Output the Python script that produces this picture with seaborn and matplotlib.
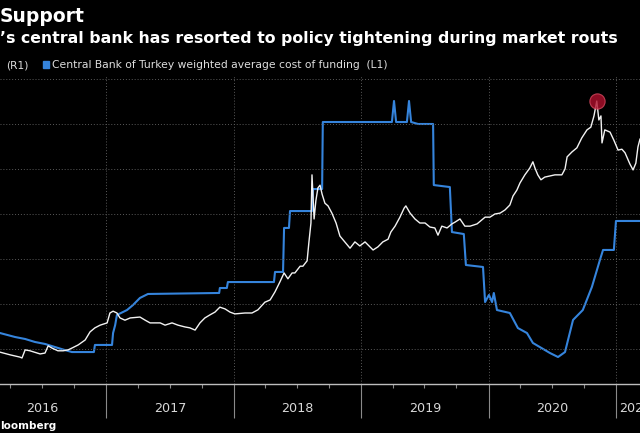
import pandas as pd
import matplotlib
matplotlib.use('Agg')
import matplotlib.pyplot as plt
import matplotlib.dates as mdates
import matplotlib.transforms as mtransforms
from matplotlib.patches import Rectangle
import seaborn as sns

# Central Bank of Turkey weighted average cost of funding, % (left axis)
funding_dates = [
    '2016-03-02', '2016-04-14', '2016-05-13', '2016-06-10', '2016-07-09', '2016-08-07',
    '2016-09-04', '2016-09-24', '2016-11-26', '2016-11-29', '2017-01-17', '2017-01-20',
    '2017-01-26', '2017-01-31', '2017-03-01', '2017-03-18', '2017-04-07', '2017-04-30',
    '2017-11-20', '2017-11-22', '2017-12-12', '2017-12-15', '2018-04-26', '2018-04-29',
    '2018-05-22', '2018-05-25', '2018-06-08', '2018-06-11', '2018-08-13', '2018-08-16',
    '2018-09-11', '2018-09-13', '2019-03-30', '2019-04-05', '2019-04-11', '2019-05-12',
    '2019-05-18', '2019-05-24', '2019-06-13', '2019-07-26', '2019-07-28', '2019-09-12',
    '2019-09-18', '2019-10-22', '2019-10-28', '2019-12-16', '2019-12-22', '2020-01-02',
    '2020-01-11', '2020-01-16', '2020-01-25', '2020-03-02', '2020-03-25', '2020-04-20',
    '2020-05-07', '2020-05-27', '2020-06-25', '2020-07-18', '2020-08-07', '2020-08-30',
    '2020-09-27', '2020-10-23', '2020-11-15', '2020-11-24', '2020-12-25', '2020-12-31',
    '2021-03-10']
funding_rate = [
    9.14, 8.86, 8.72, 8.51, 8.37, 8.15,
    7.94, 7.80, 7.80, 8.30, 8.30, 9.14,
    9.70, 10.41, 10.76, 11.11, 11.61, 11.89,
    11.96, 12.31, 12.31, 12.73, 12.73, 13.44,
    13.44, 16.54, 16.54, 17.73, 17.73, 19.28,
    19.28, 24.00, 24.00, 25.48, 24.00, 24.00,
    25.48, 24.00, 23.86, 23.86, 19.56, 19.42,
    16.25, 16.11, 13.93, 13.79, 11.32, 11.82,
    11.32, 11.96, 10.76, 10.55, 9.49, 9.14,
    8.44, 8.15, 7.73, 7.45, 7.80, 10.06,
    10.76, 12.38, 14.28, 14.99, 14.99, 17.03,
    17.03]

# lira per dollar (right axis)
lira_dates = [
    '2016-03-02', '2016-03-31', '2016-04-28', '2016-05-04', '2016-05-13', '2016-05-27',
    '2016-06-16', '2016-06-25', '2016-07-09', '2016-07-18', '2016-07-29', '2016-08-15',
    '2016-08-30', '2016-09-13', '2016-09-24', '2016-10-12', '2016-11-01', '2016-11-15',
    '2016-11-29', '2016-12-14', '2017-01-03', '2017-01-11', '2017-01-20', '2017-01-31',
    '2017-02-09', '2017-02-23', '2017-03-10', '2017-04-07', '2017-04-22', '2017-05-06',
    '2017-06-04', '2017-06-18', '2017-07-08', '2017-07-25', '2017-08-14', '2017-08-28',
    '2017-09-12', '2017-09-26', '2017-10-10', '2017-10-25', '2017-11-08', '2017-11-22',
    '2017-12-07', '2017-12-21', '2018-01-04', '2018-02-02', '2018-02-22', '2018-03-11',
    '2018-03-31', '2018-04-15', '2018-04-29', '2018-05-13', '2018-05-25', '2018-06-05',
    '2018-06-17', '2018-06-25', '2018-07-10', '2018-07-18', '2018-07-30', '2018-08-04',
    '2018-08-10', '2018-08-13', '2018-08-19', '2018-08-24', '2018-08-30', '2018-09-05',
    '2018-09-11', '2018-09-19', '2018-09-28', '2018-10-09', '2018-10-21', '2018-11-01',
    '2018-11-15', '2018-11-30', '2018-12-14', '2018-12-28', '2019-01-12', '2019-01-26',
    '2019-02-04', '2019-02-18', '2019-03-04', '2019-03-19', '2019-03-27', '2019-04-08',
    '2019-04-22', '2019-05-04', '2019-05-09', '2019-05-21', '2019-06-04', '2019-06-18',
    '2019-07-03', '2019-07-17', '2019-07-31', '2019-08-09', '2019-08-20', '2019-09-04',
    '2019-09-18', '2019-09-27', '2019-10-11', '2019-10-25', '2019-11-09', '2019-11-29',
    '2019-12-22', '2020-01-05', '2020-01-19', '2020-02-03', '2020-02-17', '2020-03-02',
    '2020-03-11', '2020-03-22', '2020-03-31', '2020-04-14', '2020-04-28', '2020-05-07',
    '2020-05-13', '2020-05-21', '2020-05-30', '2020-06-10', '2020-07-09', '2020-07-29',
    '2020-08-07', '2020-08-13', '2020-08-27', '2020-09-10', '2020-09-24', '2020-10-09',
    '2020-10-20', '2020-10-29', '2020-11-06', '2020-11-12', '2020-11-18', '2020-11-21',
    '2020-11-29', '2020-12-14', '2020-12-25', '2021-01-06', '2021-01-17', '2021-01-26',
    '2021-02-09', '2021-02-18', '2021-02-26', '2021-03-04', '2021-03-10']
lira_rate = [
    2.93, 2.87, 2.82, 2.80, 2.98, 2.96,
    2.91, 2.89, 2.91, 3.07, 3.02, 2.96,
    2.96, 2.98, 3.02, 3.09, 3.20, 3.38,
    3.47, 3.53, 3.58, 3.80, 3.84, 3.80,
    3.69, 3.64, 3.69, 3.71, 3.64, 3.58,
    3.58, 3.53, 3.58, 3.53, 3.49, 3.47,
    3.42, 3.58, 3.69, 3.76, 3.82, 3.93,
    3.89, 3.82, 3.78, 3.80, 3.80, 3.87,
    4.04, 4.09, 4.27, 4.49, 4.69, 4.56,
    4.69, 4.69, 4.84, 4.84, 4.96, 5.36,
    5.80, 6.87, 5.89, 6.29, 6.58, 6.64,
    6.44, 6.24, 6.18, 6.02, 5.80, 5.51,
    5.38, 5.24, 5.38, 5.29, 5.38, 5.27,
    5.20, 5.27, 5.38, 5.44, 5.60, 5.73,
    5.93, 6.13, 6.18, 6.02, 5.89, 5.80,
    5.80, 5.71, 5.69, 5.53, 5.73, 5.69,
    5.78, 5.82, 5.89, 5.73, 5.73, 5.78,
    5.93, 5.93, 6.00, 6.02, 6.09, 6.20,
    6.40, 6.53, 6.69, 6.87, 7.02, 7.16,
    7.02, 6.87, 6.76, 6.82, 6.87, 6.87,
    7.00, 7.27, 7.38, 7.47, 7.69, 7.87,
    7.93, 8.18, 8.51, 8.09, 8.18, 7.58,
    7.87, 7.82, 7.64, 7.42, 7.44, 7.36,
    7.11, 6.98, 7.13, 7.49, 7.67]

year_labels = ['2016', '2017', '2018', '2019', '2020', '2021']

BLUE = '#3584dc'
GRID = '#5a5a5a'

sns.set_style('dark', {'axes.facecolor': 'black', 'figure.facecolor': 'black'})
plt.rcParams['font.family'] = ['DejaVu Sans']

funding = pd.DataFrame({'date': pd.to_datetime(funding_dates), 'rate': funding_rate})
lira = pd.DataFrame({'date': pd.to_datetime(lira_dates), 'usdtry': lira_rate})

x_start = pd.Timestamp('2016-03-02')
x_end = pd.Timestamp('2021-04-19')

fig = plt.figure(figsize=(6.4, 4.33), dpi=100, facecolor='black')
# the picture is a crop of a wider chart, so the axes run past the right edge
ax = fig.add_axes([0, 49 / 433, 654 / 640, 308 / 433])
ax.set_facecolor('black')
ax2 = ax.twinx()

sns.lineplot(data=funding, x='date', y='rate', ax=ax, color=BLUE, lw=1.5, estimator=None)
sns.lineplot(data=lira, x='date', y='usdtry', ax=ax2, color='#f2f2f2', lw=1.0, estimator=None)

# record low of the lira
peak = lira.loc[lira['usdtry'].idxmax()]
ax2.plot(peak['date'], peak['usdtry'], 'o', ms=11, color='#b0102c', alpha=0.8,
         mec='#d64a60', mew=0.8, zorder=5)

ax.set_xlim(x_start, x_end)
ax.set_ylim(5.55, 27.24)
ax2.set_ylim(2.222, 9.067)

for a in (ax, ax2):
    a.set_xlabel('')
    a.set_ylabel('')
    a.set_yticklabels([])
    a.tick_params(axis='y', length=0)
    for s in a.spines.values():
        s.set_visible(False)
ax.spines['bottom'].set_visible(True)
ax.spines['bottom'].set_color('#bdbdbd')
ax.spines['bottom'].set_linewidth(1)

ax2.set_yticks(range(3, 10))
ax2.grid(axis='y', color=GRID, ls=(0, (1, 2)), lw=0.7)
ax2.set_axisbelow(True)
ax.grid(axis='y', visible=False)

ax.xaxis.set_major_locator(mdates.YearLocator())
ax.xaxis.set_minor_locator(mdates.MonthLocator(bymonth=[4, 7, 10]))
ax.set_xticklabels([])
ax.tick_params(axis='x', which='major', length=24.5, width=0.8, color='#8a8a8a',
               direction='out', bottom=True)
ax.tick_params(axis='x', which='minor', length=3, width=0.8, color='#8a8a8a',
               direction='out', bottom=True)
ax.grid(axis='x', which='major', color=GRID, ls=(0, (1, 2)), lw=0.7)

# year names centred in each year (the last one runs off the crop, as in the source)
trans = mtransforms.blended_transform_factory(ax.transData, ax.transAxes)
for yr in year_labels:
    y0 = pd.Timestamp(f'{yr}-01-01')
    y1 = min(pd.Timestamp(f'{int(yr) + 1}-01-01'), x_end)
    mid = y0 + (y1 - y0) / 2
    ax.text(mid, -25 / 308, yr, transform=trans, ha='center', va='center',
            fontsize=9.2, color='#d8d8d8')

# titles and legend
fig.text(0, 1 - 22 / 433, 'Support', ha='left', va='baseline', fontsize=13.5,
         fontweight='bold', color='white')
fig.text(0, 1 - 43 / 433, '’s central bank has resorted to policy tightening during market routs',
         ha='left', va='baseline', fontsize=11.3, fontweight='bold', color='white')
fig.text(6 / 640, 1 - 65 / 433, '(R1)', ha='left', va='center', fontsize=7.7, color='#dddddd')
fig.patches.append(Rectangle((43 / 640, 1 - 67.5 / 433), 5.5 / 640, 6 / 433,
                             transform=fig.transFigure, color=BLUE))
fig.text(52 / 640, 1 - 65 / 433, 'Central Bank of Turkey weighted average cost of funding  (L1)',
         ha='left', va='center', fontsize=7.75, color='#dddddd')
fig.text(0, 1 - 426 / 433, 'loomberg', ha='left', va='center', fontsize=7.5,
         fontweight='bold', color='white')

fig.savefig('out.png', dpi=100, facecolor='black')
